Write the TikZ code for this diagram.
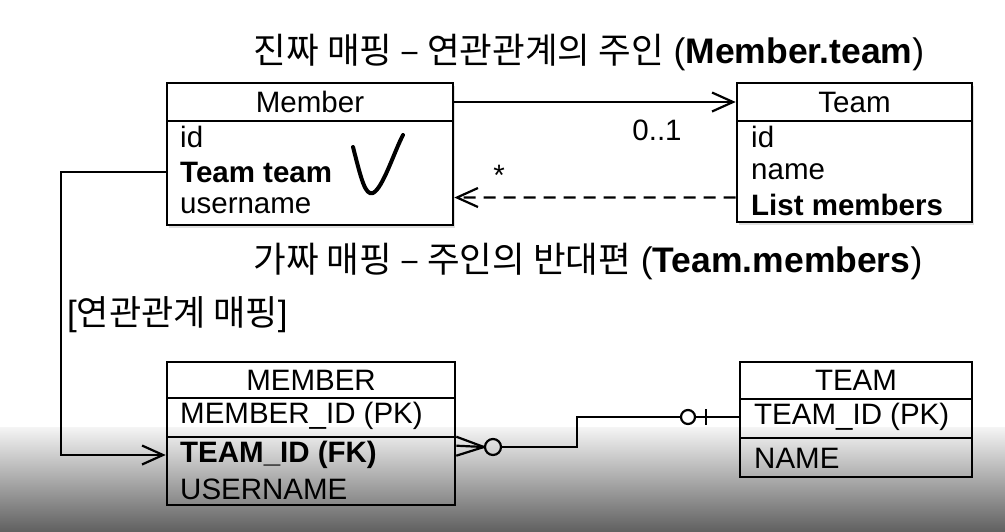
\documentclass[tikz,border=0pt]{standalone}
\usepackage{fontspec}
\setmainfont{Liberation Sans}
\newfontfamily\kr{Noto Sans CJK KR}
\usetikzlibrary{arrows.meta,positioning,calc,shadows}

\tikzset{
    cell/.style={draw, line width=2.6pt, inner sep=0pt},
    upper/.style={cell, fill=white, drop shadow={opacity=0.25, shadow xshift=2pt, shadow yshift=-3pt}},
    row/.style={anchor=west, inner sep=0pt},
    wire/.style={line width=2.2pt},
    barb/.style={-{Straight Barb[length=21pt,width=19pt,line width=2.2pt]}}
}
\newcommand{\bigtxt}{\fontsize{35.5}{40}\selectfont}
\newcommand{\rowtxt}{\fontsize{29.5}{34}\selectfont}

\begin{document}
\begin{tikzpicture}[x=1pt, y=-1pt, font=\rowtxt]
    \useasboundingbox (0,0) rectangle (1005,531);
    % video shadow at the bottom
    \shade[top color=white!96!black, bottom color=black!62] (0,427) rectangle (1005,531);

    % Object model
    \node[upper, minimum width=286pt, minimum height=38pt] (mhead) at (310,102) {Member};
    \node[upper, minimum width=286pt, minimum height=104pt] (mbody) at (310,173) {};
    \node[row] (mid) at (180,137) {id};
    \node[row] (mteam) at (180,172) {\bfseries Team team};
    \node[row] (muser) at (180,206) {username};

    \node[upper, minimum width=235pt, minimum height=38pt] (thead) at (854.5,102) {Team};
    \node[upper, minimum width=235pt, minimum height=101pt] (tbody) at (854.5,171.5) {};
    \node[row] (tid) at (751,137) {id};
    \node[row] (tname) at (751,172) {name};
    \node[row] (tlist) at (751,205) {\bfseries List members};

    % check mark
    \draw[line width=4pt, line cap=round] (353,147) .. controls (361,178) and (365,196) .. (373,193)
        .. controls (383,188) and (394,152) .. (403,135);

    % Associations
    \draw[wire, barb] (mhead.east) -- (thead.west);
    \node (one) at (657,130) {0..1};
    \draw[wire, barb, dashed, dash pattern=on 12pt off 8pt]
        ($(tbody.south west)!0.25!(tbody.north west)$) -- ($(mbody.south east)!0.27!(mbody.north east)$);
    \node (many) at (499,175) {*};

    \node[font=\bigtxt] (real) at (589,52) {{\kr 진짜 매핑 – 연관관계의 주인} (\textbf{Member.team})};
    \node[font=\bigtxt] (fake) at (588,261) {{\kr 가짜 매핑 – 주인의 반대편} (\textbf{Team.members})};
    \node[row, font=\fontsize{35}{40}\selectfont] (maplbl) at (67,315) {[{\kr 연관관계 매핑}]};

    % Table model
    \node[cell, minimum width=288pt, minimum height=36pt] (Mhead) at (311,380) {MEMBER};
    \node[cell, minimum width=288pt, minimum height=39pt] (Mpk) at (311,417.5) {};
    \node[cell, minimum width=288pt, minimum height=68pt] (Mrest) at (311,471) {};
    \node[row] (Mid) at (180,416) {MEMBER\_ID (PK)};
    \node[row] (Mfk) at (180,455) {\bfseries TEAM\_ID (FK)};
    \node[row] (Muser) at (180,489) {USERNAME};

    \node[cell, minimum width=232pt, minimum height=37pt] (Thead) at (856,380.5) {TEAM};
    \node[cell, minimum width=232pt, minimum height=39pt] (Tpk) at (856,418.5) {};
    \node[cell, minimum width=232pt, minimum height=39pt] (Trest) at (856,457.5) {};
    \node[row] (Tid) at (754,417) {TEAM\_ID (PK)};
    \node[row] (Tname) at (754,458) {NAME};

    % mapping of the association
    \draw[wire, barb] (mbody.west |- mteam) -- ++(-105,0) |- (Mrest.west |- Mfk);

    % crow's foot
    \node[circle, draw, wire, minimum size=16pt, inner sep=0pt] (many0) at (493,447) {};
    \node[circle, draw, wire, minimum size=14pt, inner sep=0pt] (one0) at (688,417) {};
    \foreach \d in {1,10,20}
        \draw[wire] (many0.west) -- ($(Mrest.north east)+(0,\d)$);
    \draw[wire] (many0.east) -- ++(75,0) |- (one0.west);
    \draw[wire] (one0.east) -- (Tpk.west |- one0);
    \draw[wire] ($(one0.east)+(10,-8)$) -- ++(0,16);
\end{tikzpicture}
\end{document}
